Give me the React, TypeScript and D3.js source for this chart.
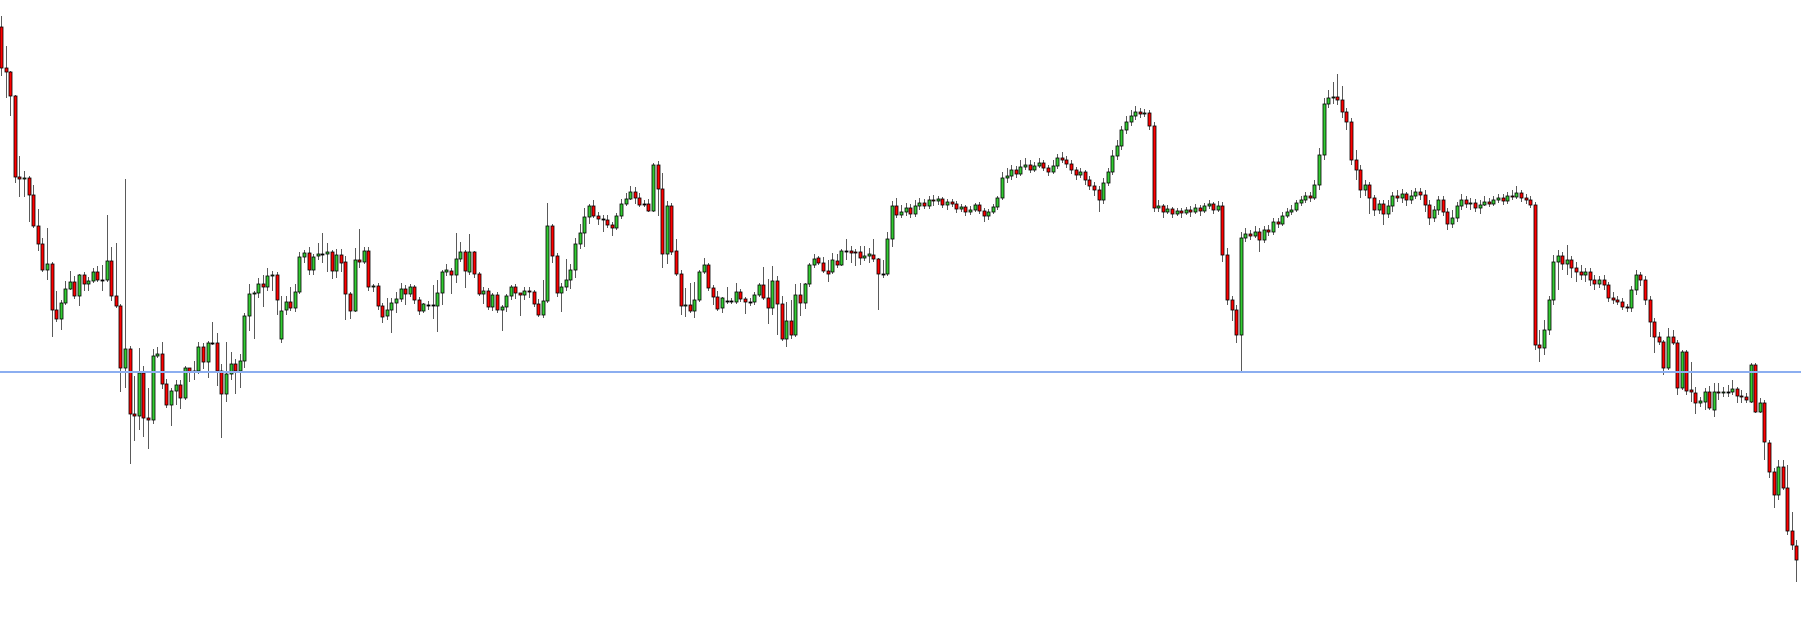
import React, { useRef, useEffect } from 'react';
import * as d3 from 'd3';

// price readings, oldest bar first (higher value = higher on the chart)
const opens = [
  673, 632, 628, 604, 523, 521, 522, 505, 474, 456, 430, 436, 390, 381, 397, 411, 418, 404, 425, 416,
  419, 428, 420, 420, 439, 404, 394, 332, 351, 286, 284, 327, 282, 280, 344, 346, 316, 295, 309, 315,
  302, 332, 328, 329, 353, 338, 357, 357, 329, 306, 326, 336, 329, 339, 384, 406, 407, 416, 413, 424,
  425, 361, 390, 398, 392, 408, 443, 447, 430, 444, 446, 446, 448, 429, 445, 438, 406, 389, 440, 438,
  449, 413, 414, 394, 384, 390, 397, 401, 411, 406, 413, 400, 389, 395, 395, 394, 407, 428, 429, 425,
  441, 448, 428, 448, 426, 406, 409, 393, 405, 390, 393, 404, 413, 407, 405, 409, 408, 396, 385, 399,
  474, 444, 407, 413, 420, 430, 456, 467, 483, 494, 484, 481, 480, 475, 472, 484, 496, 501, 508, 502,
  496, 496, 489, 535, 511, 446, 494, 449, 426, 394, 395, 389, 400, 428, 435, 412, 403, 392, 399, 399,
  398, 408, 401, 398, 398, 405, 415, 402, 392, 419, 396, 361, 379, 365, 405, 397, 416, 435, 442, 437,
  429, 428, 439, 435, 449, 449, 448, 448, 442, 444, 445, 441, 426, 426, 461, 494, 485, 488, 492, 486,
  494, 497, 494, 500, 499, 501, 495, 498, 496, 491, 493, 488, 490, 495, 489, 484, 488, 493, 502, 522,
  524, 530, 526, 533, 535, 530, 534, 537, 532, 528, 534, 542, 540, 536, 530, 525, 528, 520, 514, 510,
  500, 517, 528, 544, 554, 570, 578, 584, 588, 586, 587, 574, 492, 494, 488, 491, 486, 489, 487, 490,
  488, 492, 489, 494, 496, 490, 494, 445, 400, 390, 365, 462, 466, 464, 468, 460, 470, 468, 478, 476,
  484, 488, 490, 497, 500, 504, 502, 515, 545, 596, 602, 603, 600, 588, 578, 540, 530, 510, 515, 502,
  490, 496, 486, 494, 504, 502, 506, 500, 504, 508, 505, 495, 482, 490, 500, 488, 476, 482, 494, 500,
  496, 497, 492, 495, 498, 496, 500, 502, 499, 504, 503, 507, 502, 500, 495, 355, 352, 370, 400, 438,
  444, 436, 440, 432, 428, 425, 428, 420, 416, 420, 415, 402, 400, 398, 393, 392, 410, 425, 420, 400,
  378, 363, 358, 332, 363, 357, 312, 348, 310, 307, 297, 298, 308, 290, 308, 307, 308, 308, 311, 304,
  303, 298, 335, 288, 297, 257, 228, 205, 233, 212, 169, 154,
];

const highs = [
  684, 654, 629, 605, 544, 529, 524, 515, 491, 462, 472, 438, 409, 400, 419, 429, 424, 426, 428, 423,
  432, 434, 435, 485, 453, 457, 396, 521, 354, 324, 352, 334, 312, 351, 353, 358, 321, 312, 320, 320,
  334, 332, 339, 358, 357, 359, 378, 367, 336, 358, 348, 341, 346, 387, 416, 409, 422, 425, 432, 429,
  428, 404, 404, 413, 416, 448, 450, 453, 446, 457, 467, 457, 450, 451, 451, 444, 408, 452, 471, 453,
  453, 416, 417, 397, 402, 402, 408, 417, 415, 416, 415, 403, 397, 399, 415, 420, 430, 436, 432, 467,
  458, 450, 466, 449, 428, 413, 412, 407, 408, 395, 406, 415, 416, 407, 413, 413, 410, 401, 420, 497,
  476, 447, 417, 441, 436, 462, 476, 492, 496, 500, 488, 485, 485, 478, 487, 501, 507, 514, 513, 507,
  500, 501, 537, 539, 527, 499, 497, 461, 430, 412, 417, 418, 430, 442, 437, 415, 409, 403, 413, 402,
  417, 411, 403, 402, 408, 417, 433, 421, 434, 424, 404, 398, 400, 416, 417, 417, 437, 446, 444, 443,
  440, 447, 446, 451, 461, 454, 451, 454, 454, 452, 461, 442, 440, 468, 499, 502, 495, 497, 496, 500,
  502, 501, 504, 505, 504, 503, 501, 501, 499, 496, 495, 494, 497, 498, 492, 491, 496, 504, 528, 532,
  535, 534, 540, 542, 540, 538, 542, 540, 535, 540, 546, 548, 544, 540, 533, 532, 530, 524, 518, 514,
  522, 532, 550, 560, 574, 584, 590, 594, 592, 591, 590, 578, 500, 496, 495, 493, 492, 492, 493, 494,
  496, 495, 497, 500, 498, 499, 498, 452, 404, 395, 468, 472, 470, 474, 472, 474, 475, 482, 482, 488,
  492, 495, 500, 504, 508, 508, 520, 552, 602, 610, 618, 626, 614, 592, 582, 550, 535, 520, 518, 505,
  500, 500, 500, 508, 510, 511, 508, 510, 512, 512, 510, 500, 494, 504, 504, 492, 490, 498, 506, 504,
  502, 501, 500, 504, 502, 504, 506, 506, 508, 510, 514, 510, 506, 504, 498, 370, 380, 404, 445, 450,
  448, 455, 444, 438, 435, 432, 432, 425, 424, 425, 418, 408, 404, 402, 396, 414, 430, 428, 424, 404,
  382, 368, 360, 372, 370, 360, 350, 350, 338, 313, 303, 312, 314, 317, 317, 313, 315, 320, 313, 310,
  307, 337, 337, 302, 300, 260, 232, 240, 240, 235, 188, 160,
];

const lows = [
  624, 602, 584, 517, 503, 503, 478, 472, 449, 428, 420, 363, 378, 370, 395, 410, 401, 394, 409, 409,
  417, 418, 409, 418, 399, 392, 308, 312, 236, 259, 270, 263, 251, 276, 342, 311, 292, 274, 295, 291,
  300, 318, 320, 326, 331, 322, 355, 314, 262, 298, 320, 306, 312, 332, 369, 361, 402, 393, 409, 409,
  385, 357, 385, 389, 388, 406, 437, 425, 425, 440, 437, 428, 421, 422, 428, 380, 381, 388, 432, 436,
  409, 408, 390, 377, 380, 367, 387, 398, 395, 403, 396, 385, 387, 390, 381, 368, 395, 424, 406, 417,
  438, 412, 425, 422, 404, 396, 390, 389, 387, 369, 388, 400, 401, 384, 400, 402, 393, 383, 382, 397,
  437, 403, 388, 409, 411, 422, 451, 453, 476, 482, 475, 468, 472, 464, 470, 481, 494, 500, 496, 493,
  493, 488, 488, 484, 432, 436, 445, 424, 385, 383, 387, 382, 398, 426, 409, 395, 389, 387, 396, 396,
  396, 398, 386, 394, 395, 403, 400, 376, 385, 365, 359, 353, 361, 363, 384, 391, 413, 432, 435, 427,
  418, 426, 432, 434, 440, 437, 434, 435, 439, 437, 438, 390, 422, 424, 453, 482, 482, 484, 482, 483,
  490, 491, 491, 494, 495, 492, 490, 493, 487, 488, 484, 485, 488, 486, 478, 480, 486, 490, 500, 517,
  520, 522, 524, 530, 527, 528, 532, 529, 524, 526, 531, 537, 532, 526, 520, 522, 515, 510, 504, 488,
  496, 514, 525, 540, 550, 566, 574, 580, 582, 583, 570, 488, 488, 482, 486, 482, 484, 482, 485, 483,
  486, 484, 487, 491, 486, 488, 438, 395, 379, 357, 328, 458, 460, 462, 448, 457, 464, 465, 472, 474,
  482, 485, 488, 494, 497, 498, 500, 510, 540, 592, 596, 595, 582, 570, 535, 520, 502, 504, 486, 484,
  486, 475, 482, 488, 498, 497, 494, 496, 501, 500, 488, 475, 478, 485, 484, 470, 472, 478, 490, 492,
  490, 488, 486, 494, 493, 494, 497, 495, 496, 500, 501, 498, 496, 492, 350, 338, 345, 365, 395, 410,
  430, 425, 422, 418, 420, 418, 414, 410, 412, 410, 398, 396, 395, 390, 388, 388, 405, 414, 395, 363,
  347, 355, 325, 330, 355, 305, 310, 305, 298, 286, 293, 290, 290, 283, 300, 303, 303, 305, 297, 297,
  297, 297, 287, 287, 240, 222, 192, 200, 210, 165, 150, 118,
];

const closes = [
  632, 628, 604, 523, 521, 522, 505, 474, 456, 430, 436, 390, 381, 397, 411, 418, 404, 425, 416, 419,
  428, 420, 420, 439, 404, 394, 332, 351, 286, 284, 327, 282, 280, 344, 346, 316, 295, 309, 315, 302,
  332, 328, 329, 353, 338, 357, 357, 329, 306, 326, 336, 329, 339, 384, 406, 407, 416, 413, 424, 425,
  400, 389, 398, 392, 408, 443, 447, 430, 443, 446, 446, 448, 429, 445, 437, 406, 389, 440, 438, 449,
  413, 414, 394, 383, 390, 397, 401, 411, 406, 413, 400, 389, 396, 395, 395, 407, 428, 430, 425, 441,
  448, 429, 448, 426, 406, 409, 393, 405, 390, 393, 404, 413, 407, 405, 409, 408, 396, 385, 399, 474,
  444, 407, 413, 420, 430, 456, 467, 483, 494, 484, 481, 481, 475, 472, 484, 496, 501, 508, 502, 495,
  496, 489, 535, 511, 446, 494, 448, 426, 394, 395, 389, 400, 428, 435, 412, 403, 391, 402, 399, 399,
  408, 401, 398, 398, 405, 415, 402, 392, 419, 396, 361, 379, 365, 405, 397, 416, 435, 441, 437, 429,
  426, 440, 435, 449, 449, 447, 447, 442, 444, 446, 441, 426, 426, 461, 494, 485, 488, 492, 486, 494,
  497, 494, 500, 499, 501, 495, 498, 496, 491, 493, 488, 490, 495, 489, 484, 488, 493, 502, 522, 524,
  530, 526, 533, 535, 530, 534, 537, 532, 528, 534, 542, 540, 536, 530, 525, 528, 520, 514, 510, 500,
  517, 528, 544, 554, 570, 578, 584, 588, 586, 587, 574, 492, 494, 488, 491, 486, 489, 487, 490, 488,
  492, 489, 494, 496, 490, 494, 445, 400, 390, 365, 462, 466, 464, 468, 460, 470, 468, 478, 476, 484,
  488, 490, 497, 500, 504, 502, 515, 545, 596, 602, 603, 600, 588, 578, 540, 530, 510, 515, 502, 490,
  496, 486, 494, 504, 502, 506, 500, 504, 508, 505, 495, 482, 490, 500, 488, 476, 482, 494, 500, 496,
  497, 492, 495, 498, 496, 500, 502, 499, 504, 503, 507, 502, 500, 495, 355, 352, 370, 400, 438, 444,
  436, 440, 432, 428, 425, 428, 420, 416, 420, 415, 402, 400, 398, 393, 392, 410, 425, 420, 400, 378,
  363, 358, 332, 363, 357, 312, 348, 309, 308, 297, 299, 308, 292, 308, 307, 308, 308, 311, 304, 303,
  300, 335, 288, 297, 258, 228, 205, 233, 212, 169, 155, 140,
];

// horizontal level drawn across the chart
const levelPrice = 328;
const priceRange = [83, 700];

const App = () => {
  const ref = useRef<SVGSVGElement | null>(null);

  const width = 1801;
  const height = 617;

  useEffect(() => {
    if (!ref.current) return;

    const bars = closes.map((c, i) => ({
      i,
      o: opens[i],
      c,
      h: Math.max(highs[i], opens[i], c),
      l: Math.min(lows[i], opens[i], c),
    }));

    const x = d3
      .scaleBand<number>()
      .domain(bars.map((d) => d.i))
      .range([-0.6, width - 2.9])
      .paddingInner(0.3);

    const y = d3.scaleLinear().domain(priceRange).range([height, 0]);

    const mid = (i: number) => (x(i) || 0) + x.bandwidth() / 2;

    const svg = d3.select(ref.current);
    svg.selectAll('*').remove();

    const g = svg.append('g');

    // wicks
    g.selectAll('line.wick')
      .data(bars)
      .join('line')
      .attr('class', 'wick')
      .attr('x1', (d) => Math.round(mid(d.i)) + 0.5)
      .attr('x2', (d) => Math.round(mid(d.i)) + 0.5)
      .attr('y1', (d) => y(d.h))
      .attr('y2', (d) => y(d.l))
      .attr('stroke', '#5a5a5a')
      .attr('stroke-width', 1);

    // bodies
    g.selectAll('rect.body')
      .data(bars)
      .join('rect')
      .attr('class', 'body')
      .attr('x', (d) => Math.round(mid(d.i)) - 1)
      .attr('width', 3)
      .attr('y', (d) => y(Math.max(d.o, d.c)))
      .attr('height', (d) => Math.max(Math.abs(y(d.o) - y(d.c)), 1))
      .attr('fill', (d) =>
        Math.abs(d.o - d.c) < 1 ? '#000' : d.c > d.o ? '#33cc33' : '#ff0000'
      )
      .attr('stroke', '#000')
      .attr('stroke-width', 0.8);

    svg
      .append('line')
      .attr('x1', 0)
      .attr('x2', width)
      .attr('y1', y(levelPrice))
      .attr('y2', y(levelPrice))
      .attr('stroke', '#8caef0')
      .attr('stroke-width', 1.8);
  });

  return (
    <svg
      ref={ref}
      width={width}
      height={height}
      style={{ position: 'absolute', left: 0, top: 0, background: '#fff' }}
    />
  );
};

export default App;
